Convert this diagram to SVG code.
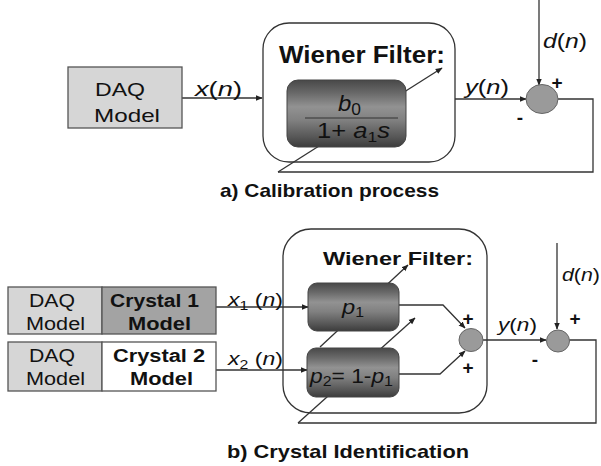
<svg xmlns="http://www.w3.org/2000/svg" width="601" height="466" viewBox="0 0 601 466">
<defs>
<marker id="arr" viewBox="0 0 10 10" refX="9" refY="5" markerWidth="7" markerHeight="7" markerUnits="userSpaceOnUse" orient="auto">
<path d="M0,1 L10,5 L0,9 z" fill="#222"/>
</marker>
<linearGradient id="fg" x1="0" y1="0" x2="0" y2="1">
<stop offset="0" stop-color="#484848"/>
<stop offset="0.2" stop-color="#6a6a6a"/>
<stop offset="0.4" stop-color="#929292"/>
<stop offset="0.6" stop-color="#808080"/>
<stop offset="0.85" stop-color="#575757"/>
<stop offset="1" stop-color="#3c3c3c"/>
</linearGradient>
<style>
.t{font-family:"Liberation Sans",Arial,sans-serif;fill:#111}
.b{font-weight:bold}
.i{font-style:italic}
.ln{fill:none;stroke:#333;stroke-width:1.3}
.box{fill:#fff;stroke:#333;stroke-width:1.3}
.daq{fill:#d6d6d6;stroke:#555;stroke-width:1.3}
.flt{fill:url(#fg);stroke:#444;stroke-width:1}
.sum{fill:#9a9a9a;stroke:#666;stroke-width:1}
.sg{font-family:"Liberation Sans",Arial,sans-serif;font-weight:bold;font-size:19px;fill:#111;text-anchor:middle}
</style>
</defs>

<!-- Part a -->
<g id="a-wiener">
<rect class="box" x="263" y="23" width="192" height="139" rx="26"/>
<text class="t b" x="279" y="63" font-size="23" textLength="166" lengthAdjust="spacingAndGlyphs">Wiener Filter:</text>
</g>
<g id="a-connectors">
<line class="ln" x1="182" y1="98" x2="262" y2="98" marker-end="url(#arr)"/>
<line class="ln" x1="455" y1="99" x2="526" y2="99" marker-end="url(#arr)"/>
<line class="ln" x1="539" y1="0" x2="539" y2="85" marker-end="url(#arr)"/>
<polyline class="ln" points="558,99 593,99 593,172 278,172"/>
<line class="ln" x1="278" y1="172" x2="442" y2="68" marker-end="url(#arr)"/>
</g>
<g id="a-daq">
<rect class="daq" x="68" y="67" width="114" height="61"/>
<text class="t" x="95" y="96" font-size="19" textLength="50" lengthAdjust="spacingAndGlyphs">DAQ</text>
<text class="t" x="94" y="122" font-size="19" textLength="66" lengthAdjust="spacingAndGlyphs">Model</text>
</g>
<g id="a-filter">
<rect class="flt" x="287" y="80" width="119" height="67" rx="11"/>
<line x1="305" y1="118" x2="398" y2="118" stroke="#333" stroke-width="1"/>
<text class="t" x="338" y="111" font-size="22" textLength="23" lengthAdjust="spacingAndGlyphs"><tspan class="i">b</tspan><tspan font-size="16" dy="4">0</tspan></text>
<text class="t" x="317" y="138" font-size="22" textLength="73" lengthAdjust="spacingAndGlyphs">1+ <tspan class="i">a</tspan><tspan font-size="15" dy="4">1</tspan><tspan class="i" dy="-4">s</tspan></text>
</g>
<g id="a-sum">
<ellipse class="sum" cx="542" cy="99" rx="16" ry="14.5"/>
<text class="sg" x="557" y="89">+</text>
<text class="sg" x="520" y="124">-</text>
</g>
<g id="a-labels">
<text class="t" x="195" y="96" font-size="21" textLength="47" lengthAdjust="spacingAndGlyphs"><tspan class="i">x</tspan>(<tspan class="i">n</tspan>)</text>
<text class="t" x="465" y="94" font-size="21" textLength="44" lengthAdjust="spacingAndGlyphs"><tspan class="i">y</tspan>(<tspan class="i">n</tspan>)</text>
<text class="t" x="543" y="48" font-size="21" textLength="44" lengthAdjust="spacingAndGlyphs"><tspan class="i">d</tspan>(<tspan class="i">n</tspan>)</text>
<text class="t b" x="220" y="197" font-size="19" textLength="219" lengthAdjust="spacingAndGlyphs">a) Calibration process</text>
</g>

<!-- Part b -->
<g id="b-wiener">
<rect class="box" x="283" y="229" width="204" height="184" rx="28"/>
<text class="t b" x="323" y="265" font-size="19" textLength="150" lengthAdjust="spacingAndGlyphs">Wiener Filter:</text>
</g>
<g id="b-connectors">
<line class="ln" x1="216" y1="307" x2="308" y2="307" marker-end="url(#arr)"/>
<line class="ln" x1="216" y1="370" x2="307" y2="370" marker-end="url(#arr)"/>
<polyline class="ln" points="399,305 443,305 465,328" marker-end="url(#arr)"/>
<polyline class="ln" points="399,374 440,374 465,351" marker-end="url(#arr)"/>
<line class="ln" x1="483" y1="340" x2="546" y2="340" marker-end="url(#arr)"/>
<line class="ln" x1="557" y1="243" x2="557" y2="329" marker-end="url(#arr)"/>
<polyline class="ln" points="569,340 596,340 596,423 298,423"/>
<line class="ln" x1="320" y1="347" x2="408" y2="265" marker-end="url(#arr)"/>
<line class="ln" x1="298" y1="423" x2="415" y2="318" marker-end="url(#arr)"/>
</g>
<g id="b-row1">
<rect class="daq" x="8" y="287" width="94" height="47"/>
<rect x="102" y="287" width="114" height="47" fill="#a3a3a3" stroke="#555" stroke-width="1.3"/>
<text class="t" x="29" y="307" font-size="18" textLength="46" lengthAdjust="spacingAndGlyphs">DAQ</text>
<text class="t" x="26" y="330" font-size="18" textLength="59" lengthAdjust="spacingAndGlyphs">Model</text>
<text class="t b" x="110" y="307" font-size="18" textLength="89" lengthAdjust="spacingAndGlyphs">Crystal 1</text>
<text class="t b" x="128" y="330" font-size="18" textLength="63" lengthAdjust="spacingAndGlyphs">Model</text>
</g>
<g id="b-row2">
<rect class="daq" x="8" y="342" width="94" height="49"/>
<rect x="102" y="342" width="114" height="49" fill="#fff" stroke="#555" stroke-width="1.3"/>
<text class="t" x="29" y="362" font-size="18" textLength="46" lengthAdjust="spacingAndGlyphs">DAQ</text>
<text class="t" x="26" y="385" font-size="18" textLength="59" lengthAdjust="spacingAndGlyphs">Model</text>
<text class="t b" x="113" y="362" font-size="18" textLength="92" lengthAdjust="spacingAndGlyphs">Crystal 2</text>
<text class="t b" x="130" y="385" font-size="18" textLength="63" lengthAdjust="spacingAndGlyphs">Model</text>
</g>
<g id="b-p1">
<rect class="flt" x="308" y="283" width="91" height="48" rx="9"/>
<text class="t" x="342" y="314" font-size="21" textLength="22" lengthAdjust="spacingAndGlyphs"><tspan class="i">p</tspan><tspan font-size="14" dy="3">1</tspan></text>
</g>
<g id="b-p2">
<rect class="flt" x="307" y="348" width="92" height="49" rx="9"/>
<text class="t" x="310" y="383" font-size="20" textLength="83" lengthAdjust="spacingAndGlyphs"><tspan class="i">p</tspan><tspan font-size="14" dy="3">2</tspan><tspan dy="-3">= 1-</tspan><tspan class="i">p</tspan><tspan font-size="14" dy="3">1</tspan></text>
</g>
<g id="b-sum1">
<ellipse class="sum" cx="471" cy="340" rx="12" ry="11.5"/>
<text class="sg" x="468" y="325">+</text>
<text class="sg" x="468" y="374">+</text>
</g>
<g id="b-sum2">
<ellipse class="sum" cx="558" cy="341" rx="11.5" ry="11"/>
<text class="sg" x="575" y="325">+</text>
<text class="sg" x="535" y="366">-</text>
</g>
<g id="b-labels">
<text class="t" x="228" y="306" font-size="19" textLength="55" lengthAdjust="spacingAndGlyphs"><tspan class="i">x</tspan><tspan font-size="13" dy="4">1</tspan><tspan dy="-4"> (</tspan><tspan class="i">n</tspan>)</text>
<text class="t" x="228" y="365" font-size="19" textLength="55" lengthAdjust="spacingAndGlyphs"><tspan class="i">x</tspan><tspan font-size="13" dy="4">2</tspan><tspan dy="-4"> (</tspan><tspan class="i">n</tspan>)</text>
<text class="t" x="498" y="331" font-size="19" textLength="39" lengthAdjust="spacingAndGlyphs"><tspan class="i">y</tspan>(<tspan class="i">n</tspan>)</text>
<text class="t" x="562" y="281" font-size="19" textLength="38" lengthAdjust="spacingAndGlyphs"><tspan class="i">d</tspan>(<tspan class="i">n</tspan>)</text>
<text class="t b" x="227" y="458" font-size="19" textLength="242" lengthAdjust="spacingAndGlyphs">b) Crystal Identification</text>
</g>
</svg>
